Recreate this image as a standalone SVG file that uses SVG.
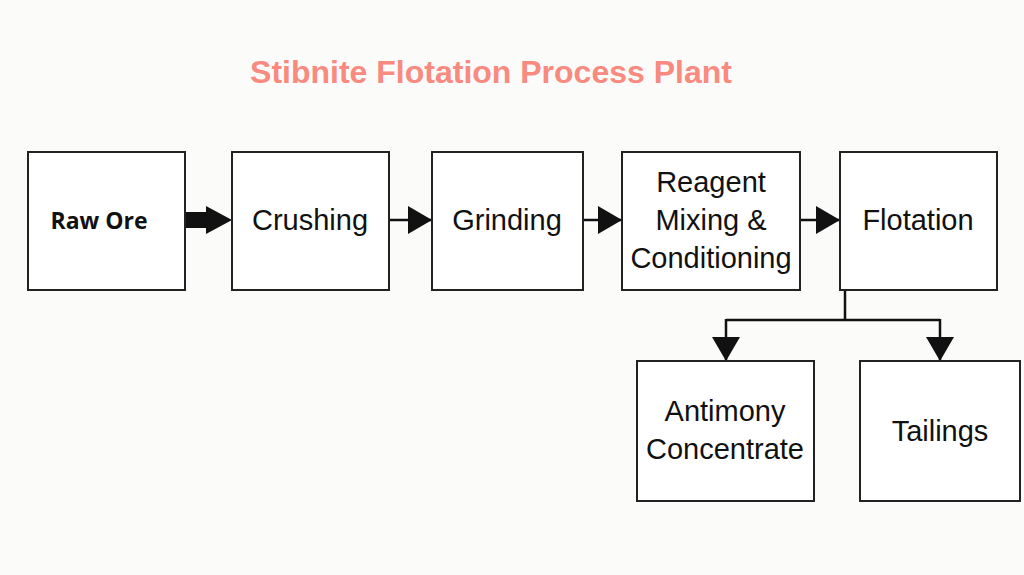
<svg xmlns="http://www.w3.org/2000/svg" width="1024" height="575" viewBox="0 0 1024 575">
<style>
.box{fill:#fff;stroke:#222;stroke-width:2}
.t{font-family:"Liberation Sans",Arial,sans-serif;font-size:29px;fill:#111;text-anchor:middle}
.ln{stroke:#111;stroke-width:2.5;fill:none}
</style>
<defs>
<marker id="ah2" viewBox="0 0 24 28" refX="24" refY="14" markerWidth="24" markerHeight="28" markerUnits="userSpaceOnUse" orient="auto"><path d="M0,0 L24,14 L0,28 Z" fill="#111"/></marker>
</defs>
<rect width="1024" height="575" fill="#fbfbf9"/>
<text x="491" y="83" font-family="'Liberation Sans',Arial,sans-serif" font-weight="bold" font-size="32" fill="#f88a80" text-anchor="middle">Stibnite Flotation Process Plant</text>
<g id="connectors">
<path d="M186,220 L210,220" stroke="#111" stroke-width="16"/>
<path d="M206,206 L232,220 L206,234 Z" fill="#111"/>
<path class="ln" d="M390,220 L432,220" marker-end="url(#ah2)"/>
<path class="ln" d="M584,220 L622,220" marker-end="url(#ah2)"/>
<path class="ln" d="M801,220 L840,220" marker-end="url(#ah2)"/>
<path class="ln" d="M845,291 L845,320 M726,320 L940,320"/>
<path class="ln" d="M726,319 L726,361" marker-end="url(#ah2)"/>
<path class="ln" d="M940,319 L940,361" marker-end="url(#ah2)"/>
</g>
<g id="raw"><rect class="box" x="28" y="152" width="157" height="138"/><text class="t" x="99" y="229" style="font-size:23px;font-weight:bold;font-family:'Open Sans',sans-serif">Raw Ore</text></g>
<g id="crushing"><rect class="box" x="232" y="152" width="157" height="138"/><text class="t" x="310" y="230">Crushing</text></g>
<g id="grinding"><rect class="box" x="432" y="152" width="151" height="138"/><text class="t" x="507" y="230">Grinding</text></g>
<g id="reagent"><rect class="box" x="622" y="152" width="178" height="138"/><text class="t" x="711" y="192">Reagent</text><text class="t" x="711" y="230">Mixing &amp;</text><text class="t" x="711" y="268">Conditioning</text></g>
<g id="flotation"><rect class="box" x="840" y="152" width="157" height="138"/><text class="t" x="918" y="230">Flotation</text></g>
<g id="antimony"><rect class="box" x="637" y="361" width="177" height="140"/><text class="t" x="725" y="421">Antimony</text><text class="t" x="725" y="459">Concentrate</text></g>
<g id="tailings"><rect class="box" x="860" y="361" width="160" height="140"/><text class="t" x="940" y="441">Tailings</text></g>
</svg>
